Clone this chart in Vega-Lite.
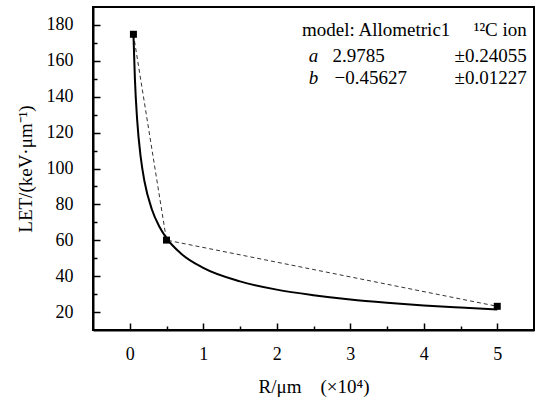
{
  "$schema": "https://vega.github.io/schema/vega-lite/v6.json",
  "width": 441,
  "height": 323,
  "autosize": {"type": "none"},
  "padding": {"left": 93, "top": 7, "right": 5, "bottom": 68},
  "background": "white",
  "config": {
    "font": "Liberation Serif, Times New Roman, serif",
    "view": {"stroke": "black", "strokeWidth": 2},
    "axis": {
      "domainColor": "black", "domainWidth": 2, "tickColor": "black", "tickWidth": 1.5,
      "labelFont": "Liberation Serif", "labelFontSize": 18, "labelColor": "black",
      "titleFont": "Liberation Serif", "titleFontSize": 19, "titleFontWeight": "normal", "titleColor": "black",
      "grid": false
    },
    "text": {"font": "Liberation Serif, Times New Roman, serif"}
  },
  "resolve": {"axis": {"x": "independent", "y": "independent"}},
  "datasets": {
    "pts": [
      {"R": 0.05, "LET": 174.8},
      {"R": 0.5, "LET": 60.1},
      {"R": 5.0, "LET": 23.2}
    ],
    "curve": [
      {"R": 0.05, "LET": 175.0},
      {"R": 0.07, "LET": 150.1},
      {"R": 0.1, "LET": 127.5},
      {"R": 0.15, "LET": 106.0},
      {"R": 0.2, "LET": 92.9},
      {"R": 0.3, "LET": 77.3},
      {"R": 0.4, "LET": 67.8},
      {"R": 0.5, "LET": 61.2},
      {"R": 0.7, "LET": 52.5},
      {"R": 1.0, "LET": 44.6},
      {"R": 1.5, "LET": 37.1},
      {"R": 2.0, "LET": 32.5},
      {"R": 2.5, "LET": 29.4},
      {"R": 3.0, "LET": 27.0},
      {"R": 3.5, "LET": 25.2},
      {"R": 4.0, "LET": 23.7},
      {"R": 4.5, "LET": 22.5},
      {"R": 5.0, "LET": 21.4}
    ],
    "txt": [
      {"x": 2.344, "y": 177.3, "label": "model: Allometric1", "kind": "left"},
      {"x": 5.402, "y": 177.3, "label": "¹²C ion", "kind": "right"},
      {"x": 2.435, "y": 162.5, "label": "a", "kind": "italic"},
      {"x": 2.76, "y": 162.5, "label": "2.9785", "kind": "left"},
      {"x": 5.402, "y": 162.5, "label": "±0.24055", "kind": "right"},
      {"x": 2.435, "y": 150.4, "label": "b", "kind": "italic"},
      {"x": 2.787, "y": 150.4, "label": "−0.45627", "kind": "left"},
      {"x": 5.402, "y": 150.4, "label": "±0.01227", "kind": "right"}
    ]
  },
  "layer": [
    {
      "data": {"name": "pts"},
      "mark": {"type": "line", "stroke": "#333333", "strokeWidth": 1, "strokeDash": [4, 3]},
      "encoding": {
        "x": {
          "field": "R", "type": "quantitative",
          "scale": {"domain": [-0.5, 5.5], "nice": false, "zero": false},
          "axis": {
            "orient": "bottom",
            "title": "R/μm\u00a0\u00a0\u00a0\u00a0(×10⁴)",
            "values": [0, 1, 2, 3, 4, 5],
            "format": "d",
            "ticks": false,
            "labelPadding": 15,
            "titlePadding": 14
          }
        },
        "y": {
          "field": "LET", "type": "quantitative",
          "scale": {"domain": [10, 190], "nice": false, "zero": false},
          "axis": {
            "orient": "left",
            "title": "LET/(keV·μm⁻¹)",
            "values": [20, 40, 60, 80, 100, 120, 140, 160, 180],
            "ticks": false,
            "labelPadding": 20,
            "titlePadding": 11
          }
        }
      }
    },
    {
      "data": {"name": "curve"},
      "mark": {"type": "line", "stroke": "black", "strokeWidth": 2, "interpolate": "monotone"},
      "encoding": {
        "x": {
          "field": "R", "type": "quantitative",
          "axis": {
            "orient": "top", "offset": -323, "title": null, "labels": false, "domain": false,
            "values": [0, 1, 2, 3, 4, 5], "tickSize": 7
          }
        },
        "y": {
          "field": "LET", "type": "quantitative",
          "axis": {
            "orient": "right", "offset": -441, "title": null, "labels": false, "domain": false,
            "values": [20, 40, 60, 80, 100, 120, 140, 160, 180], "tickSize": 7
          }
        }
      }
    },
    {
      "data": {"name": "pts"},
      "mark": {"type": "square", "size": 49, "filled": true, "color": "black", "opacity": 1},
      "encoding": {
        "x": {
          "field": "R", "type": "quantitative",
          "axis": {
            "orient": "top", "offset": -323, "title": null, "labels": false, "domain": false,
            "values": [0.5, 1.5, 2.5, 3.5, 4.5], "tickSize": 4
          }
        },
        "y": {
          "field": "LET", "type": "quantitative",
          "axis": {
            "orient": "right", "offset": -441, "title": null, "labels": false, "domain": false,
            "values": [30, 50, 70, 90, 110, 130, 150, 170], "tickSize": 4
          }
        }
      }
    },
    {
      "data": {"name": "txt"},
      "transform": [{"filter": "datum.kind === 'left'"}],
      "mark": {"type": "text", "align": "left", "baseline": "middle", "fontSize": 19, "color": "black"},
      "encoding": {
        "x": {"field": "x", "type": "quantitative", "axis": null},
        "y": {"field": "y", "type": "quantitative", "axis": null},
        "text": {"field": "label"}
      }
    },
    {
      "data": {"name": "txt"},
      "transform": [{"filter": "datum.kind === 'italic'"}],
      "mark": {"type": "text", "align": "left", "baseline": "middle", "fontSize": 19, "fontStyle": "italic", "color": "black"},
      "encoding": {
        "x": {"field": "x", "type": "quantitative", "axis": null},
        "y": {"field": "y", "type": "quantitative", "axis": null},
        "text": {"field": "label"}
      }
    },
    {
      "data": {"name": "txt"},
      "transform": [{"filter": "datum.kind === 'right'"}],
      "mark": {"type": "text", "align": "right", "baseline": "middle", "fontSize": 19, "color": "black"},
      "encoding": {
        "x": {"field": "x", "type": "quantitative", "axis": null},
        "y": {"field": "y", "type": "quantitative", "axis": null},
        "text": {"field": "label"}
      }
    }
  ]
}
